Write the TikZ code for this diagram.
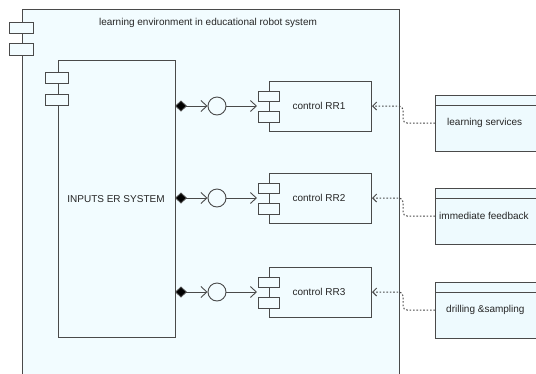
\documentclass[tikz,border=0pt]{standalone}
\usepackage{fontspec}
\setmainfont{Liberation Sans}
\usetikzlibrary{arrows.meta,positioning}

\definecolor{edge}{HTML}{4A4A4A}
\definecolor{ink}{HTML}{262626}
\definecolor{paleblue}{HTML}{F2FCFF}
\definecolor{boxblue}{HTML}{EEFAFE}

\tikzset{
  box/.style={draw=edge, line width=1pt, fill=paleblue, inner sep=0pt,
    anchor=north west, minimum width=#1},
  port/.style={draw=edge, line width=1pt, fill=paleblue, inner sep=0pt,
    anchor=north west},
  lbl/.style={text=ink, font=\fontsize{10}{12}\selectfont, inner sep=0pt},
  wire/.style={draw=edge, line width=0.9pt},
  ball/.style={circle, draw=edge, line width=0.9pt, fill=paleblue,
    minimum size=18pt, inner sep=0pt},
  dep/.style={draw=edge, line width=1pt, dash pattern=on 1.6pt off 1.8pt,
    rounded corners=4pt, -{Straight Barb[length=4pt,width=8pt]}},
  use/.style={wire, {Diamond[fill=black,length=12pt,width=11pt]}-{Straight Barb[length=6pt,width=11pt]}},
}

\begin{document}
\begin{tikzpicture}[x=1pt,y=-1pt]
\useasboundingbox (0,0) rectangle (536,373);
\clip (0,0) rectangle (536,373);

% outer component
\node[box=377pt, minimum height=380pt] (env) at (22,9) {};
\node[port, minimum width=24pt, minimum height=11pt] (envp1) at (9,22) {};
\node[port, minimum width=24pt, minimum height=12pt] (envp2) at (9,43) {};
\node[lbl] (envtitle) at (208,23) {learning environment in educational robot system};

% inputs component
\node[box=117pt, minimum height=277pt] (inp) at (58,60) {};
\node[port, minimum width=23pt, minimum height=11pt] (inpp1) at (45,72) {};
\node[port, minimum width=23pt, minimum height=11pt] (inpp2) at (45,94) {};
\node[lbl] (inplbl) at (116,199) {INPUTS ER SYSTEM};

% control components
\foreach \name/\top/\txt in {rra/81/control RR1, rrb/173/control RR2, rrc/267/control RR3}{
  \node[box=102pt, minimum height=50pt] (\name) at (269,\top) {};
  \node[port, minimum width=21pt, minimum height=10pt] (\name p1) at (258,\top+10) {};
  \node[port, minimum width=21pt, minimum height=11pt] (\name p2) at (258,\top+30) {};
  \node[lbl] (\name lbl) at (319,\top+25) {\txt};
}

% services (header strip + body)
\foreach \name/\top/\txt/\tx in {sva/95/learning services/447, svb/188/immediate feedback/439, svc/282/drilling \&sampling/446}{
  \node[box=120pt, minimum height=56pt, fill=boxblue] (\name) at (435,\top) {};
  \draw[edge, line width=1pt] (435,\top+10) -- (555,\top+10);
  \node[lbl, anchor=west] (\name lbl) at (\tx,\top+28) {\txt};
  \coordinate (\name in) at (435,\top+28);
}

% provided interfaces
\foreach \name/\y in {rra/106, rrb/198, rrc/292}{
  \node[ball] (\name ball) at (217,\y) {};
  \coordinate (\name src) at (175,\y);
  \coordinate (\name dst) at (257,\y);
  \draw[use] (\name src) -- (\name ball.west);
  \draw[wire, -{Straight Barb[length=6pt,width=11pt]}] (\name ball.east) -- (\name dst);
}

% service dependencies
\draw[dep] (svain) -- (403,123) -- (403,106) -- (rra.east |- 0,106);
\draw[dep] (svbin) -- (403,216) -- (403,198) -- (rrb.east |- 0,198);
\draw[dep] (svcin) -- (403,310) -- (403,292) -- (rrc.east |- 0,292);
\end{tikzpicture}
\end{document}
